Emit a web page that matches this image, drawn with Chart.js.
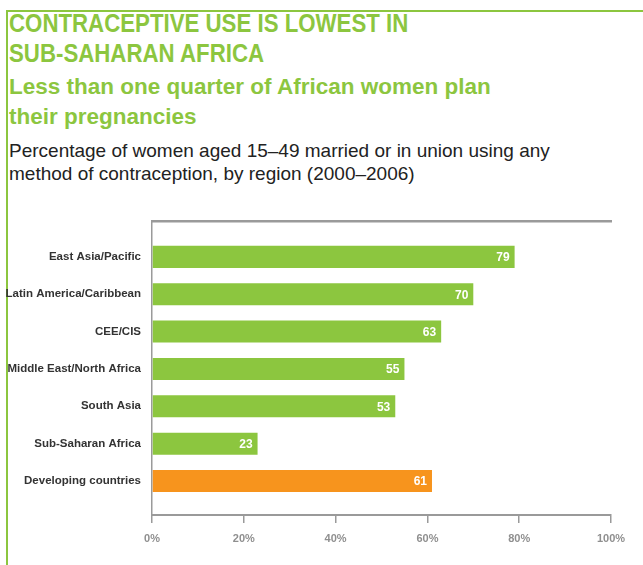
<!DOCTYPE html>
<html><head><meta charset="utf-8">
<script src="https://cdn.jsdelivr.net/npm/chart.js@4/dist/chart.umd.min.js"></script>
<style>
html,body{margin:0;padding:0;background:#fff;}
#wrap{position:relative;width:643px;height:565px;overflow:hidden;background:#fff;}
#frameTop{position:absolute;left:6px;top:10px;width:637px;height:2px;background:#8cc63f;}
#frameLeft{position:absolute;left:6px;top:10px;width:2px;height:555px;background:#8cc63f;}
.t{position:absolute;left:9px;white-space:nowrap;margin:0;transform-origin:0 0;}
#h1{top:8px;font:bold 25px/30px 'Liberation Sans',Arial,sans-serif;color:#8cc63f;transform:scaleX(0.89);}
#h2{top:72px;font:bold 22.5px/30px 'Liberation Sans',Arial,sans-serif;color:#8cc63f;}
#sub{top:139px;font:19px/23px 'Liberation Sans',Arial,sans-serif;color:#222;}
#c{position:absolute;left:0;top:0;}
</style></head>
<body><div id="wrap">
<div id="frameTop"></div><div id="frameLeft"></div>
<div class="t" id="h1">CONTRACEPTIVE USE IS LOWEST IN<br>SUB-SAHARAN AFRICA</div>
<div class="t" id="h2">Less than one quarter of African women plan<br>their pregnancies</div>
<div class="t" id="sub">Percentage of women aged 15–49 married or in union using any<br>method of contraception, by region (2000–2006)</div>
<canvas id="c" width="643" height="565"></canvas>
</div>
<script>
const categories = ['East Asia/Pacific','Latin America/Caribbean','CEE/CIS','Middle East/North Africa','South Asia','Sub-Saharan Africa','Developing countries'];
const values = [79,70,63,55,53,23,61];
const xTickLabels = ['0%','20%','40%','60%','80%','100%'];
const highlightCategory = 'Developing countries';

const GREEN = '#8cc63f', ORANGE = '#f7941d', AXIS = '#9a9a9a';

const valueLabels = {
  id: 'valueLabels',
  afterDatasetsDraw(chart) {
    const ctx = chart.ctx;
    const meta = chart.getDatasetMeta(0);
    ctx.save();
    ctx.fillStyle = '#ffffff';
    ctx.font = 'bold 12px "Liberation Sans", Arial, sans-serif';
    ctx.textAlign = 'right';
    ctx.textBaseline = 'middle';
    meta.data.forEach((bar, i) => {
      ctx.fillText(String(values[i]), bar.x - 5, bar.y + 1);
    });
    ctx.restore();
  }
};

new Chart(document.getElementById('c'), {
  type: 'bar',
  data: {
    datasets: [{
      data: values.map((v, i) => ({x: v, y: i})),
      backgroundColor: ctx => categories[ctx.dataIndex] === highlightCategory ? ORANGE : GREEN,
      borderWidth: 0,
      categoryPercentage: 1,
      barPercentage: 0.59
    }]
  },
  options: {
    indexAxis: 'y',
    responsive: false,
    animation: false,
    devicePixelRatio: 1,
    layout: {padding: {top: 221, right: 32, left: 0, bottom: 0}},
    plugins: {legend: {display: false}, tooltip: {enabled: false}, title: {display: false}},
    scales: {
      x: {
        type: 'linear', position: 'bottom', min: 0, max: 100,
        afterFit: s => { s.height = 50; },
        grid: {drawOnChartArea: false, drawTicks: true, tickLength: 8, color: AXIS, lineWidth: 1.5},
        border: {display: true, color: AXIS, width: 2},
        ticks: {stepSize: 20, color: '#8f8f8f', padding: 9,
          font: {family: '"Liberation Sans", Arial, sans-serif', size: 11, weight: 'bold'},
          callback: v => xTickLabels[Math.round(v / 20)]}
      },
      x2: {
        type: 'linear', position: 'top', min: 0, max: 100,
        afterFit: s => { s.height = 0; },
        grid: {display: false},
        border: {display: true, color: AXIS, width: 2.5},
        ticks: {display: false}
      },
      y: {
        type: 'linear', reverse: true, min: -0.96, max: 6.91, offset: false,
        afterFit: s => { s.width = 152; },
        grid: {display: false, drawTicks: false, offset: false},
        border: {display: true, color: AXIS, width: 1.5},
        ticks: {stepSize: 1, includeBounds: false, autoSkip: false, padding: 11, color: '#333',
          font: {family: '"Liberation Sans", Arial, sans-serif', size: 11.5, weight: 'bold'},
          callback: v => categories[v] !== undefined ? categories[v] : ''}
      }
    }
  },
  plugins: [valueLabels]
});
</script>
</body></html>
